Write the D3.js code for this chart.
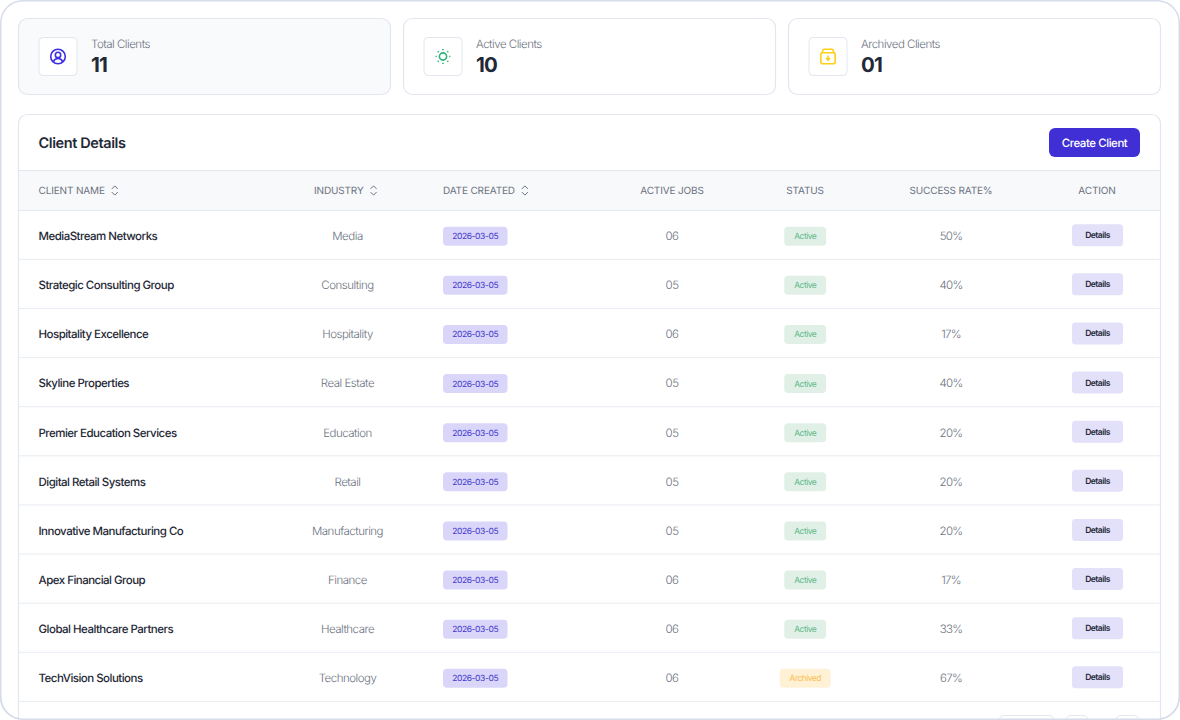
<!DOCTYPE html>
<html>
<head>
<meta charset="utf-8">
<title>Client Details</title>
<script src="https://cdn.jsdelivr.net/npm/d3@7"></script>
<style>
  html, body { margin: 0; padding: 0; background: #fff; overflow: hidden; }
  /* opacity forces greyscale text antialiasing, the reference has no colour fringes */
  svg { display: block; font-family: Inter, "Noto Sans", sans-serif; text-rendering: geometricPrecision; opacity: 0.999; }
</style>
</head>
<body>
<div id="chart"></div>
<script>
// summary cards
const cardLabels = ['Total Clients', 'Active Clients', 'Archived Clients'];
const cardValues = ['11', '10', '01'];

// table
const columns = ['CLIENT NAME', 'INDUSTRY', 'DATE CREATED', 'ACTIVE JOBS', 'STATUS', 'SUCCESS RATE%', 'ACTION'];
const clients = ['MediaStream Networks', 'Strategic Consulting Group', 'Hospitality Excellence', 'Skyline Properties',
  'Premier Education Services', 'Digital Retail Systems', 'Innovative Manufacturing Co', 'Apex Financial Group',
  'Global Healthcare Partners', 'TechVision Solutions'];
const industries = ['Media', 'Consulting', 'Hospitality', 'Real Estate', 'Education', 'Retail', 'Manufacturing',
  'Finance', 'Healthcare', 'Technology'];
const dates = ['2026-03-05', '2026-03-05', '2026-03-05', '2026-03-05', '2026-03-05', '2026-03-05', '2026-03-05',
  '2026-03-05', '2026-03-05', '2026-03-05'];
const activeJobs = ['06', '05', '06', '05', '05', '05', '05', '06', '06', '06'];
const statuses = ['Active', 'Active', 'Active', 'Active', 'Active', 'Active', 'Active', 'Active', 'Active', 'Archived'];
const successRates = [50, 40, 17, 40, 20, 20, 20, 17, 33, 67];

const width = 1180;
const height = 720;
const line = '#e2e6ef';
const dark = '#1f2937';
const grey = '#6b7280';

const svg = d3.select('#chart').append('svg')
  .attr('width', width)
  .attr('height', height)
  .attr('viewBox', [0, 0, width, height]);

// outer frame
svg.append('rect')
  .attr('x', 0.75).attr('y', 0.75)
  .attr('width', width - 1.5).attr('height', height - 1.5)
  .attr('rx', 22)
  .attr('fill', '#fff')
  .attr('stroke', '#d6dcea')
  .attr('stroke-width', 1.5);

// cards
const cardW = 372;

const cards = svg.selectAll('.card')
  .data(cardLabels)
  .enter()
  .append('g')
  .attr('class', 'card')
  .attr('transform', (d, i) => `translate(${18.5 + i * 385}, 18.5)`);

cards.append('rect')
  .attr('width', cardW).attr('height', 76).attr('rx', 9)
  .attr('fill', (d, i) => i === 0 ? '#f9fafb' : '#fff')
  .attr('stroke', line)
  .attr('stroke-width', 1.2);

cards.append('rect')
  .attr('x', 20.5).attr('y', 19)
  .attr('width', 38).attr('height', 38).attr('rx', 4)
  .attr('fill', '#fff')
  .attr('stroke', line);

cards.append('text')
  .attr('x', 72.5).attr('y', 29.5)
  .attr('font-size', 11.5)
  .attr('font-weight', 300)
  .attr('letter-spacing', -0.5)
  .attr('fill', grey)
  .text(d => d);

cards.append('text')
  .attr('x', 72.5).attr('y', 53.5)
  .attr('font-size', 20.5)
  .attr('font-weight', 700)
  .attr('letter-spacing', -0.8)
  .attr('fill', dark)
  .text((d, i) => cardValues[i]);

// icons
const iconTotal = cards.filter((d, i) => i === 0).append('g')
  .attr('transform', 'translate(39.5, 38)')
  .attr('fill', 'none').attr('stroke', '#3f2fe0').attr('stroke-width', 1.6);
iconTotal.append('circle').attr('r', 7.3);
iconTotal.append('circle').attr('cy', -1.6).attr('r', 2.7);
iconTotal.append('path').attr('d', 'M-4.6 5.2C-3.8 2.8 -2 2 0 2C2 2 3.8 2.8 4.6 5.2');

const iconActive = cards.filter((d, i) => i === 1).append('g')
  .attr('transform', 'translate(39.5, 38)')
  .attr('fill', 'none').attr('stroke', '#2bb077').attr('stroke-width', 1.6);
iconActive.append('circle').attr('r', 3.6);
iconActive.selectAll('line')
  .data(d3.range(8))
  .enter()
  .append('line')
  .attr('x1', d => 6.2 * Math.cos(d * Math.PI / 4))
  .attr('y1', d => 6.2 * Math.sin(d * Math.PI / 4))
  .attr('x2', d => 7.4 * Math.cos(d * Math.PI / 4))
  .attr('y2', d => 7.4 * Math.sin(d * Math.PI / 4));

const iconArchived = cards.filter((d, i) => i === 2).append('g')
  .attr('transform', 'translate(39.5, 38)')
  .attr('fill', 'none').attr('stroke', '#fcd015').attr('stroke-width', 1.6);
iconArchived.append('rect').attr('x', -7.2).attr('y', -3.8).attr('width', 14.4).attr('height', 11).attr('rx', 2);
iconArchived.append('path').attr('d', 'M-6 -3.8L-5 -6.6Q-4.6 -7.3 -3.6 -7.3H3.6Q4.6 -7.3 5 -6.6L6 -3.8');
iconArchived.append('path').attr('d', 'M0 -1V3.4M-2 1.6L0 3.6L2 1.6');

// table card
svg.append('rect')
  .attr('x', 18.5).attr('y', 114.5)
  .attr('width', 1142).attr('height', 620)
  .attr('rx', 9)
  .attr('fill', '#fff')
  .attr('stroke', line)
  .attr('stroke-width', 1.2);

svg.append('text')
  .attr('x', 38.5).attr('y', 148)
  .attr('font-size', 14.5)
  .attr('font-weight', 600)
  .attr('letter-spacing', -0.4)
  .attr('fill', dark)
  .text('Client Details');

svg.append('rect')
  .attr('x', 1049).attr('y', 128)
  .attr('width', 91).attr('height', 29).attr('rx', 6)
  .attr('fill', '#3f2fd4');

svg.append('text')
  .attr('x', 1094.5).attr('y', 146.8)
  .attr('text-anchor', 'middle')
  .attr('font-size', 11.5)
  .attr('font-weight', 500)
  .attr('letter-spacing', -0.45)
  .attr('fill', '#fff')
  .text('Create Client');

// header band
svg.append('rect')
  .attr('x', 19).attr('y', 170.5)
  .attr('width', 1141).attr('height', 40)
  .attr('fill', '#f8f9fb')
  .attr('stroke', 'none');
svg.selectAll('.header-rule')
  .data([170.5, 210.3])
  .enter()
  .append('line')
  .attr('class', 'header-rule')
  .attr('x1', 19).attr('x2', 1160)
  .attr('y1', d => d).attr('y2', d => d)
  .attr('stroke', line);

const headerX = [38.5, 314, 443, 672, 805, 951, 1097];
const headerAnchor = ['start', 'start', 'start', 'middle', 'middle', 'middle', 'middle'];
const sortable = [true, true, true, false, false, false, false];

const headers = svg.selectAll('.header')
  .data(columns)
  .enter()
  .append('g')
  .attr('class', 'header')
  .attr('transform', (d, i) => `translate(${headerX[i]}, 190.5)`);

headers.append('text')
  .attr('y', 3.6)
  .attr('text-anchor', (d, i) => headerAnchor[i])
  .attr('font-size', 10)
  .attr('letter-spacing', -0.15)
  .attr('fill', grey)
  .text(d => d);

// sort chevrons sit just after the label
headers.filter((d, i) => sortable[i])
  .append('path')
  .attr('transform', function () {
    const w = this.parentNode.querySelector('text').getComputedTextLength();
    return `translate(${w + 10}, 0)`;
  })
  .attr('d', 'M-3 -1.6L0 -4.6L3 -1.6M-3 1.6L0 4.6L3 1.6')
  .attr('fill', 'none')
  .attr('stroke', grey)
  .attr('stroke-width', 1);

// rows
const y = d3.scaleBand().domain(clients).range([210.9, 702]);

const rows = svg.selectAll('.row')
  .data(clients)
  .enter()
  .append('g')
  .attr('class', 'row')
  .attr('transform', d => `translate(0, ${y(d) + y.bandwidth() / 2})`);

rows.append('line')
  .attr('x1', 19).attr('x2', 1160)
  .attr('y1', y.bandwidth() / 2 - 0.6).attr('y2', y.bandwidth() / 2 - 0.6)
  .attr('stroke', '#e9ecf2');

rows.append('text')
  .attr('x', 38.5).attr('y', 4.7)
  .attr('font-size', 11.5)
  .attr('font-weight', 500)
  .attr('letter-spacing', -0.52)
  .attr('fill', dark)
  .text(d => d);

rows.append('text')
  .attr('x', 347.5).attr('y', 4.7)
  .attr('text-anchor', 'middle')
  .attr('font-size', 11.5)
  .attr('font-weight', 300)
  .attr('letter-spacing', -0.5)
  .attr('fill', grey)
  .text((d, i) => industries[i]);

rows.append('rect')
  .attr('x', 443).attr('y', -8.7)
  .attr('width', 64.5).attr('height', 19).attr('rx', 4)
  .attr('fill', '#d9d6fa');

rows.append('text')
  .attr('x', 475.2).attr('y', 3.8)
  .attr('text-anchor', 'middle')
  .attr('font-size', 8.5)
  .attr('letter-spacing', -0.4)
  .attr('fill', '#4338ca')
  .text((d, i) => dates[i]);

rows.append('text')
  .attr('x', 672).attr('y', 4.7)
  .attr('text-anchor', 'middle')
  .attr('font-size', 11.5)
  .attr('font-weight', 300)
  .attr('letter-spacing', -0.5)
  .attr('fill', grey)
  .text((d, i) => activeJobs[i]);

const pillW = { Active: 42, Archived: 51 };
const pillFill = { Active: '#e1f0e7', Archived: '#fff1d6' };
const pillText = { Active: '#5fb98a', Archived: '#f8c04e' };

rows.append('rect')
  .attr('x', (d, i) => 805.2 - pillW[statuses[i]] / 2)
  .attr('y', -8.7)
  .attr('width', (d, i) => pillW[statuses[i]])
  .attr('height', 19)
  .attr('rx', 4)
  .attr('fill', (d, i) => pillFill[statuses[i]]);

rows.append('text')
  .attr('x', 805.2).attr('y', 3.8)
  .attr('text-anchor', 'middle')
  .attr('font-size', 8.5)
  .attr('letter-spacing', -0.55)
  .attr('fill', (d, i) => pillText[statuses[i]])
  .text((d, i) => statuses[i]);

rows.append('text')
  .attr('x', 951).attr('y', 4.7)
  .attr('text-anchor', 'middle')
  .attr('font-size', 11.5)
  .attr('font-weight', 300)
  .attr('letter-spacing', -0.7)
  .attr('fill', grey)
  .text((d, i) => successRates[i] + '%');

rows.append('rect')
  .attr('x', 1072).attr('y', -11.2)
  .attr('width', 51).attr('height', 22).attr('rx', 3.5)
  .attr('fill', '#e3e0fa');

rows.append('text')
  .attr('x', 1097.5).attr('y', 2.8)
  .attr('text-anchor', 'middle')
  .attr('font-size', 8.5)
  .attr('font-weight', 600)
  .attr('letter-spacing', -0.5)
  .attr('fill', dark)
  .text('Details');

// pagination, cut off by the bottom of the frame
svg.selectAll('.pager')
  .data([[999, 55], [1066, 22], [1116, 23]])
  .enter()
  .append('rect')
  .attr('class', 'pager')
  .attr('x', d => d[0]).attr('y', 715.5)
  .attr('width', d => d[1]).attr('height', 24).attr('rx', 5)
  .attr('fill', '#fff')
  .attr('stroke', line);

// re-draw the frame edge over anything the table card runs past
svg.append('path')
  .attr('d', `M0.75 ${height - 22}A22 22 0 0 0 22.75 ${height - 0.75}H${width - 22.75}A22 22 0 0 0 ${width - 0.75} ${height - 22}`)
  .attr('fill', 'none')
  .attr('stroke', '#d6dcea')
  .attr('stroke-width', 1.5);
</script>
</body>
</html>
